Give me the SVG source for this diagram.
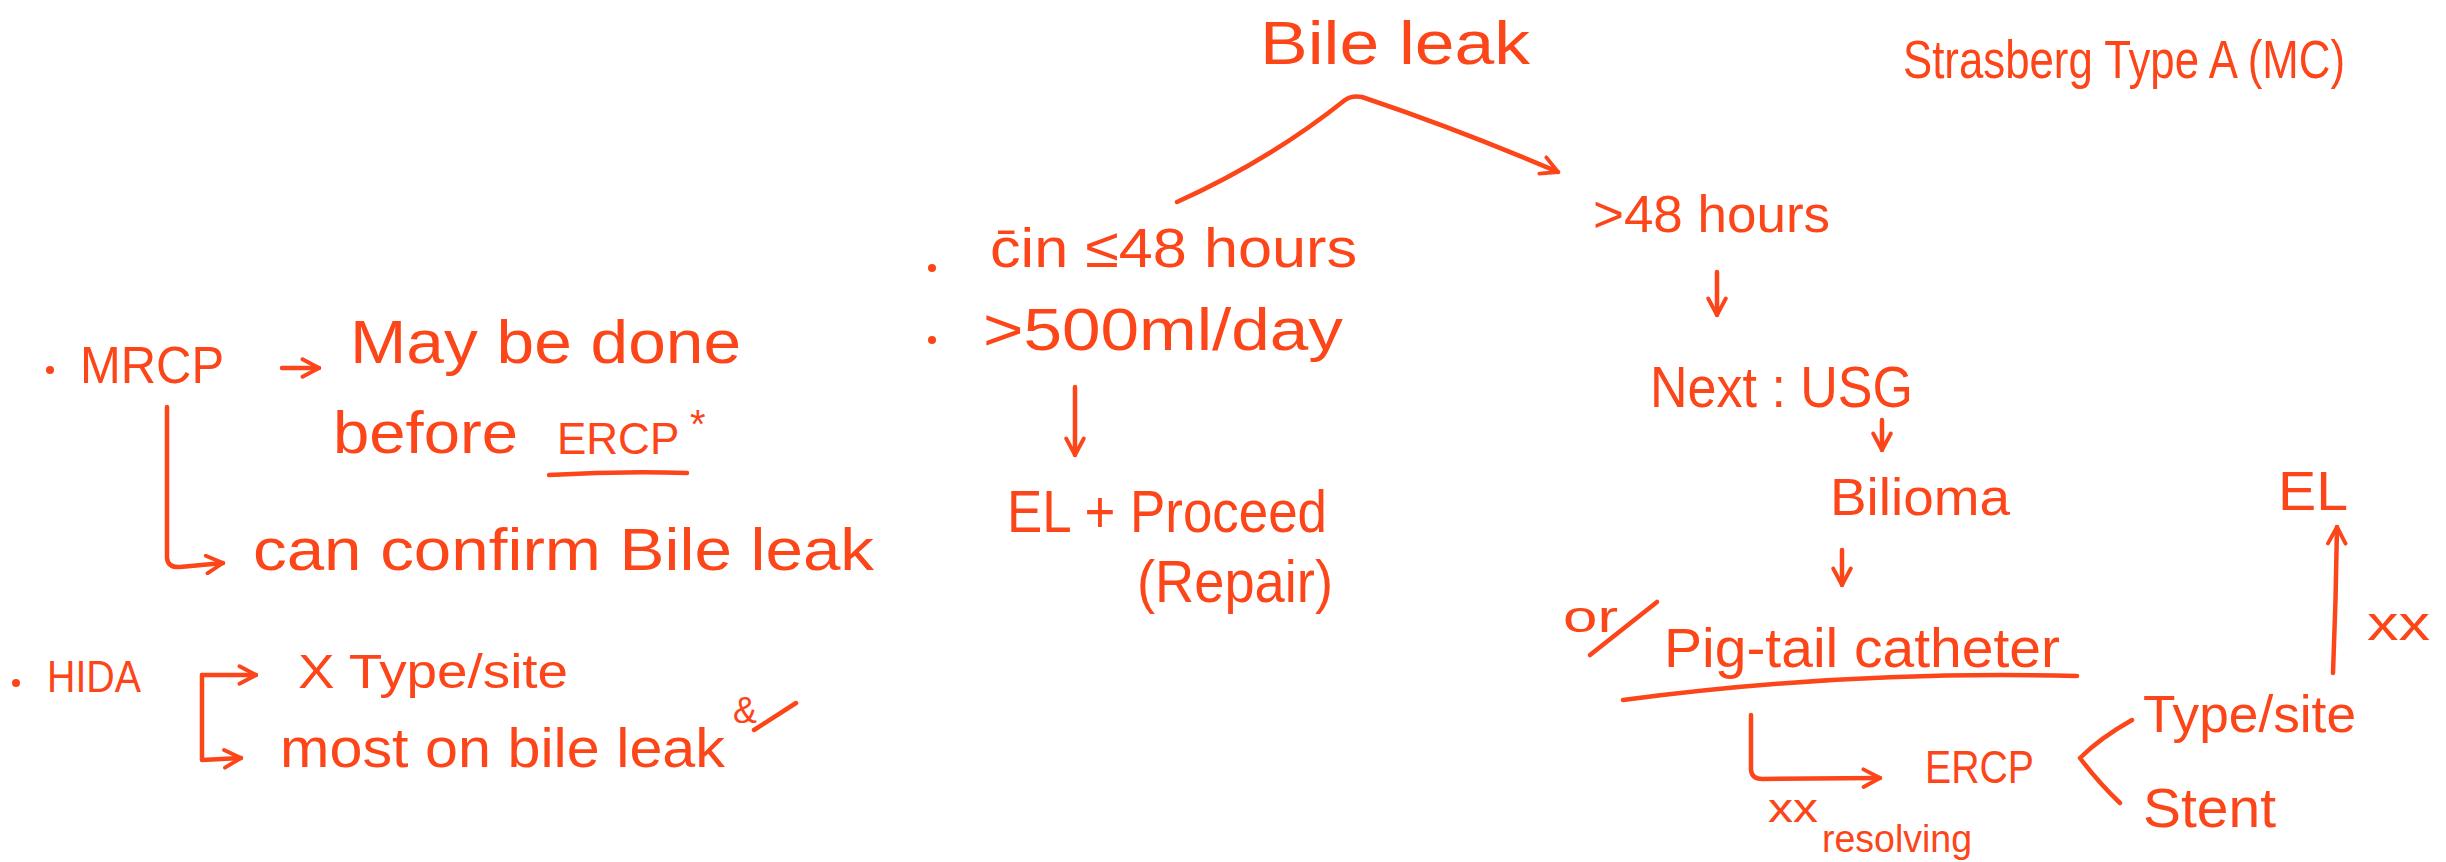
<svg xmlns="http://www.w3.org/2000/svg" width="2446" height="862" viewBox="0 0 2446 862">
<style>
  text { font-family: "Liberation Sans", "DejaVu Sans", sans-serif; fill: #FC4519; }
  .ln { fill: none; stroke: #FC4519; stroke-width: 4.5; stroke-linecap: round; stroke-linejoin: round; }
  .dot { fill: #FC4519; }
</style>
<defs>
  <marker id="arr" viewBox="0 0 20 20" refX="18" refY="10" markerWidth="22" markerHeight="22" markerUnits="userSpaceOnUse" orient="auto">
    <path d="M3,2 L18,10 L3,18" fill="none" stroke="#FC4519" stroke-width="3.5" stroke-linecap="round" stroke-linejoin="round"/>
  </marker>
</defs>
<rect width="2446" height="862" fill="#FFFFFF"/>

<g id="title">
  <text x="1260" y="64" font-size="62" textLength="270" lengthAdjust="spacingAndGlyphs">Bile leak</text>
</g>
<g id="strasberg">
  <text x="1903" y="78" font-size="54" textLength="442" lengthAdjust="spacingAndGlyphs">Strasberg Type A (MC)</text>
</g>

<g id="early">
  <circle class="dot" cx="932" cy="268" r="4"/>
  <text x="990" y="267" font-size="56" textLength="367" lengthAdjust="spacingAndGlyphs">c̄in ≤48 hours</text>
  <circle class="dot" cx="932" cy="340" r="4"/>
  <text x="983" y="350" font-size="60" textLength="360" lengthAdjust="spacingAndGlyphs">&gt;500ml/day</text>
</g>
<g id="el-proceed">
  <text x="1007" y="532" font-size="60" textLength="320" lengthAdjust="spacingAndGlyphs">EL + Proceed</text>
  <text x="1137" y="602" font-size="60" textLength="196" lengthAdjust="spacingAndGlyphs">(Repair)</text>
</g>

<g id="mrcp">
  <circle class="dot" cx="50" cy="370" r="4"/>
  <text x="80" y="383" font-size="52" textLength="144" lengthAdjust="spacingAndGlyphs">MRCP</text>
  <text x="350" y="363" font-size="62" textLength="391" lengthAdjust="spacingAndGlyphs">May be done</text>
  <text x="333" y="453" font-size="60" textLength="185" lengthAdjust="spacingAndGlyphs">before</text>
  <text x="557" y="454" font-size="44">ERCP</text>
  <text x="690" y="438" font-size="40">*</text>
  <text x="253" y="570" font-size="60" textLength="621" lengthAdjust="spacingAndGlyphs">can confirm Bile leak</text>
</g>

<g id="hida">
  <circle class="dot" cx="16" cy="683" r="4"/>
  <text x="47" y="692" font-size="44" textLength="94" lengthAdjust="spacingAndGlyphs">HIDA</text>
  <text x="298" y="688" font-size="48" textLength="270" lengthAdjust="spacingAndGlyphs">X Type/site</text>
  <text x="280" y="767" font-size="56" textLength="445" lengthAdjust="spacingAndGlyphs">most on bile leak</text>
  <text x="733" y="723" font-size="36">&amp;</text>
</g>

<g id="late">
  <text x="1593" y="232" font-size="52" textLength="237" lengthAdjust="spacingAndGlyphs">&gt;48 hours</text>
  <text x="1650" y="407" font-size="58" textLength="263" lengthAdjust="spacingAndGlyphs">Next : USG</text>
  <text x="1830" y="515" font-size="52" textLength="180" lengthAdjust="spacingAndGlyphs">Bilioma</text>
</g>
<g id="pigtail">
  <text x="1563" y="632" font-size="44" textLength="55" lengthAdjust="spacingAndGlyphs">or</text>
  <text x="1664" y="667" font-size="56" textLength="396" lengthAdjust="spacingAndGlyphs">Pig-tail catheter</text>
</g>
<g id="ercp">
  <text x="1925" y="783" font-size="46" textLength="109" lengthAdjust="spacingAndGlyphs">ERCP</text>
  <text x="1768" y="822" font-size="40" textLength="50" lengthAdjust="spacingAndGlyphs">xx</text>
  <text x="1822" y="852" font-size="38" textLength="150" lengthAdjust="spacingAndGlyphs">resolving</text>
</g>
<g id="type-stent">
  <text x="2143" y="732" font-size="52" textLength="213" lengthAdjust="spacingAndGlyphs">Type/site</text>
  <text x="2143" y="827" font-size="56" textLength="133" lengthAdjust="spacingAndGlyphs">Stent</text>
</g>
<g id="el">
  <text x="2278" y="510" font-size="56" textLength="70" lengthAdjust="spacingAndGlyphs">EL</text>
  <text x="2367" y="640" font-size="48" textLength="63" lengthAdjust="spacingAndGlyphs">xx</text>
</g>

<g id="connectors">
  <path class="ln" d="M1177,202 Q1270,160 1345,100 Q1352,95 1362,97 Q1460,130 1558,172" marker-end="url(#arr)"/>
  <path class="ln" d="M1075,387 L1075,455" marker-end="url(#arr)"/>
  <path class="ln" d="M1717,272 L1717,315" marker-end="url(#arr)"/>
  <path class="ln" d="M1882,420 L1882,450" marker-end="url(#arr)"/>
  <path class="ln" d="M1842,550 L1842,585" marker-end="url(#arr)"/>
  <path class="ln" d="M282,368 L319,368" marker-end="url(#arr)"/>
  <path class="ln" d="M167,407 L167,558 Q168,568 180,567 L223,563" marker-end="url(#arr)"/>
  <path class="ln" d="M549,475 Q620,471 687,473"/>
  <path class="ln" d="M202,675 L202,760 L241,758" marker-end="url(#arr)"/>
  <path class="ln" d="M202,675 L256,675" marker-end="url(#arr)"/>
  <path class="ln" d="M754,730 L796,703"/>
  <path class="ln" d="M1657,602 L1590,655"/>
  <path class="ln" d="M1623,700 Q1850,670 2077,676"/>
  <path class="ln" d="M1751,715 L1751,770 Q1752,779 1762,779 L1880,778" marker-end="url(#arr)"/>
  <path class="ln" d="M2132,720 Q2100,738 2080,758 Q2098,782 2120,803"/>
  <path class="ln" d="M2333,673 Q2336,600 2337,527" marker-end="url(#arr)"/>
</g>
</svg>
